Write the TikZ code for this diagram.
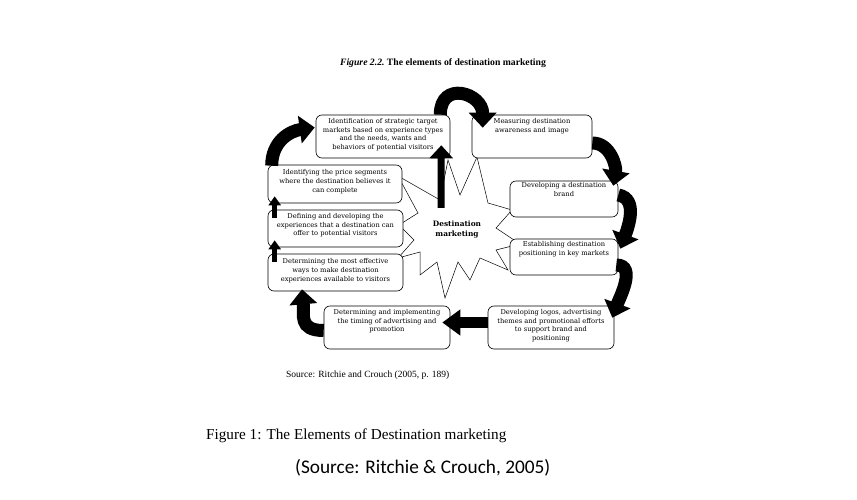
\documentclass[tikz,border=0pt]{standalone}
\usepackage{fontspec}
\setmainfont{Liberation Serif}
\newfontfamily\calibrifont{Carlito}
\newfontfamily\boxfont{DejaVu Serif}
\usetikzlibrary{arrows.meta}

\tikzset{
  stagebox/.style={draw, rounded corners=6pt, fill=white, line width=0.6pt},
  stagetext/.style={align=center, inner sep=0pt, font=\boxfont\fontsize{6.7}{8.7}\selectfont},
  hubstar/.style={draw, fill=white, line width=0.5pt, line join=miter},
  bigarrow/.style={line width=13pt, -{Triangle[length=15pt,width=27pt]}},
  flatarrow/.style={line width=11pt, -{Triangle[length=18pt,width=25pt]}},
  uparrow/.style={line width=7pt, -{Triangle[length=13pt,width=23pt]}},
  smallarrow/.style={line width=5pt, -{Triangle[length=9pt,width=12pt]}},
}

\begin{document}
\begin{tikzpicture}[x=1pt, y=1pt]
\useasboundingbox (0,0) rectangle (857,-500);

\node (title) at (443,-63) [font=\fontsize{9.7}{11}\selectfont\bfseries]
  {\textit{Figure 2.2.}\ The elements of destination marketing};

% the star in the middle
\draw[hubstar] (477,-157) -- (488,-203) -- (512,-210) -- (496,-228)
  -- (520,-244) -- (496,-250) -- (508,-270) -- (480,-258) -- (470,-280)
  -- (458,-262) -- (445,-298) -- (437,-262) -- (420,-275) -- (420,-252)
  -- (398,-258) -- (414,-240) -- (399,-225) -- (418,-213) -- (398,-176)
  -- (440,-200) -- (448,-160) -- (460,-195) -- cycle;
\node (dm) at (457,-230) [align=center, font=\boxfont\fontsize{7.4}{10}\selectfont\bfseries]
  {Destination\\marketing};

% boxes
\node (target) at (383,-136.5) [stagebox, minimum width=134pt, minimum height=43pt] {};
\node (awareness) at (532,-136.5) [stagebox, minimum width=120pt, minimum height=43pt] {};
\node (brand) at (564,-199) [stagebox, minimum width=108pt, minimum height=36pt] {};
\node (positioning) at (564,-257) [stagebox, minimum width=108pt, minimum height=36pt] {};
\node (logos) at (551,-327.5) [stagebox, minimum width=126pt, minimum height=43pt] {};
\node (timing) at (387,-327.5) [stagebox, minimum width=126pt, minimum height=43pt] {};
\node (delivery) at (335.5,-272.5) [stagebox, minimum width=135pt, minimum height=37pt] {};
\node (experiences) at (335.5,-228.5) [stagebox, minimum width=135pt, minimum height=37pt] {};
\node (pricing) at (335,-184) [stagebox, minimum width=134pt, minimum height=38pt] {};

\node (target text) [stagetext, below] at ([yshift=-3.5pt]target.north)
  {Identification of strategic target\\markets based on experience types\\and the needs, wants and\\behaviors of potential visitors};
\node (awareness text) [stagetext, below] at ([yshift=-3.5pt]awareness.north)
  {Measuring destination\\awareness and image};
\node (brand text) [stagetext, below] at ([yshift=-2pt]brand.north)
  {Developing a destination\\brand};
\node (positioning text) [stagetext, below] at ([yshift=-3pt]positioning.north)
  {Establishing destination\\positioning in key markets};
\node (logos text) [stagetext, below] at ([yshift=-3.5pt]logos.north)
  {Developing logos, advertising\\themes and promotional efforts\\to support brand and\\positioning};
\node (timing text) [stagetext, below] at ([yshift=-3.5pt]timing.north)
  {Determining and implementing\\the timing of advertising and\\promotion};
\node (delivery text) [stagetext, below] at ([yshift=-5pt]delivery.north)
  {Determining the most effective\\ways to make destination\\experiences available to visitors};
\node (experiences text) [stagetext, below] at ([yshift=-3.5pt]experiences.north)
  {Defining and developing the\\experiences that a destination can\\offer to potential visitors};
\node (pricing text) [stagetext, below] at ([yshift=-5pt]pricing.north)
  {Identifying the price segments\\where the destination believes it\\can complete};

% arrows round the cycle
\draw[bigarrow] ([xshift=-10pt]target.north east) to[out=90, in=90, looseness=2]
  ([shift={(11pt,-13pt)}]awareness.north west);
\draw[bigarrow] ([yshift=-6.5pt]awareness.east) to[out=0, in=80]
  ([shift={(-5pt,-5pt)}]brand.north east);
\draw[bigarrow] ([yshift=4pt]brand.east) to[out=-10, in=70, looseness=1]
  ([shift={(2pt,-10pt)}]positioning.north east);
\draw[bigarrow] ([shift={(-2pt,-8pt)}]positioning.east) to[out=0, in=70, looseness=1]
  ([shift={(-2pt,-12pt)}]logos.north east);
\draw[flatarrow] ([yshift=5pt]logos.west) -- ([shift={(-8pt,5pt)}]timing.east);
\draw[bigarrow] ([yshift=-3pt]timing.west) to[out=180, in=-85, looseness=1.4]
  ([shift={(-33.5pt,2pt)}]delivery.south);
\draw[smallarrow] ([shift={(7pt,-8pt)}]delivery.north west) -- ([shift={(7pt,7pt)}]experiences.south west);
\draw[smallarrow] ([shift={(7pt,-8pt)}]experiences.north west) -- ([shift={(7pt,7pt)}]pricing.south west);
\draw[bigarrow] ([shift={(4pt,-1pt)}]pricing.north west) to[out=90, in=188, looseness=1.1]
  ([shift={(-1pt,9pt)}]target.west);
\draw[uparrow] ([shift={(-16pt,10pt)}]dm.north) -- ([shift={(-9pt,13pt)}]target.south east);

% captions
\node (source) at (286,-375) [anchor=west, inner sep=0pt, font=\fontsize{9.5}{11}\selectfont]
  {Source: Ritchie and Crouch (2005, p. 189)};
\node (figure) at (206,-436) [anchor=west, inner sep=0pt, font=\fontsize{15.2}{17}\selectfont]
  {Figure 1: The Elements of Destination marketing};
\node (credit) at (295,-468) [anchor=west, inner sep=0pt, font=\calibrifont\fontsize{19.3}{22}\selectfont]
  {(Source: Ritchie \& Crouch, 2005)};
\end{tikzpicture}
\end{document}
